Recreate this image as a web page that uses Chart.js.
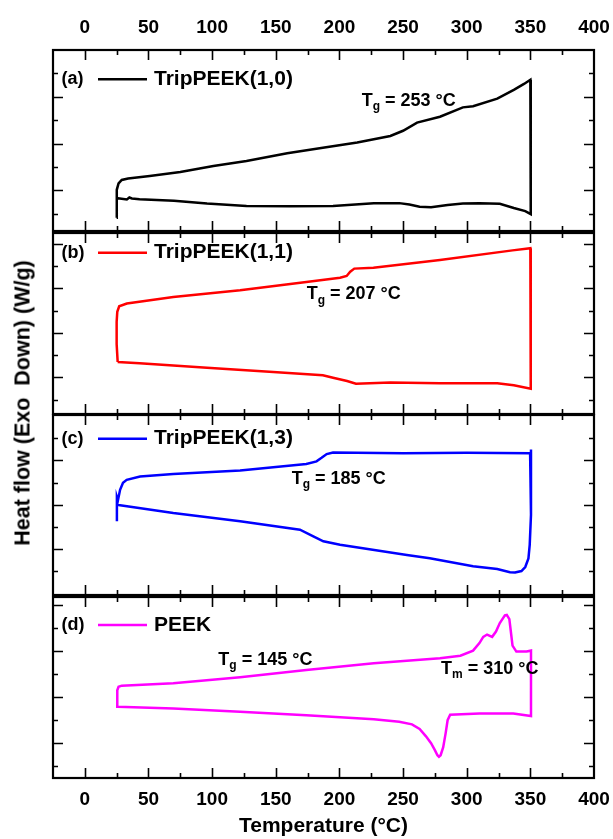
<!DOCTYPE html>
<html>
<head>
<meta charset="utf-8">
<script src="https://cdn.jsdelivr.net/npm/chart.js@4.4.1/dist/chart.umd.min.js"></script>
<style>
  body { margin: 0; background: #fff; }
  #wrap { position: relative; width: 613px; height: 839px; overflow: hidden; background: #fff; }
  #wrap canvas { position: absolute; left: 0; }
  #ytitle {
    position: absolute; left: 23px; top: 403px;
    transform: translate(-50%, -50%) rotate(-90deg);
    font: bold 21.5px "Liberation Sans", Arial, sans-serif;
    white-space: nowrap; color: #000;
  }
</style>
</head>
<body>
<div id="wrap">
  <canvas id="chartA" width="613" height="240" style="top:0px"></canvas>
  <canvas id="chartB" width="613" height="200" style="top:224px"></canvas>
  <canvas id="chartC" width="613" height="200" style="top:406px"></canvas>
  <canvas id="chartD" width="613" height="251" style="top:588px"></canvas>
  <div id="ytitle">Heat flow (Exo&nbsp; Down) (W/g)</div>
</div>
<script>
// temperature axis (°C)
const tempRange = [-25, 400];

// (a) TripPEEK(1,0): heating then cooling, traced in order
const tempA = [25.0, 25.1, 26.5, 29, 34, 51, 75, 101, 127, 159, 187, 214, 240, 250, 261, 279, 297, 305, 324, 337,
  345, 350, 350.3, 346, 337, 326, 310, 297, 285, 272, 263, 255, 247, 227, 195, 161, 127, 96, 70, 43, 37, 35, 33, 26, 25.3];
const heatA = [0.84, 2.03, 2.30, 2.45, 2.51, 2.62, 2.79, 3.05, 3.26, 3.59, 3.83, 4.05, 4.33, 4.55, 4.90, 5.15, 5.55, 5.60, 5.92, 6.30,
  6.55, 6.73, 0.99, 1.12, 1.25, 1.43, 1.45, 1.44, 1.38, 1.28, 1.31, 1.40, 1.46, 1.46, 1.34, 1.33, 1.34, 1.44, 1.56, 1.63, 1.66, 1.70, 1.62, 1.67, 1.67];

// (b) TripPEEK(1,1)
const tempB = [25.8, 25.0, 25.0, 25.5, 27, 33, 69.5, 122, 174, 200.5, 205.7, 208.5, 211.7, 226.7, 279, 336, 350, 350.3, 337, 324,
  279, 240, 213, 206, 195, 187, 148, 96, 43, 25.8];
const heatB = [2.70, 3.5, 4.5, 4.95, 5.20, 5.32, 5.62, 5.92, 6.29, 6.48, 6.56, 6.75, 6.89, 6.93, 7.28, 7.71, 7.81, 1.50, 1.65, 1.74,
  1.74, 1.77, 1.72, 1.84, 1.99, 2.10, 2.25, 2.44, 2.64, 2.70];

// (c) TripPEEK(1,3)
const tempC = [25.2, 25.2, 26, 27.7, 30, 32.9, 43.4, 69.5, 122, 174, 182, 186, 190, 195, 250, 300, 349.8, 350.5, 350.5, 349.5,
  348.5, 346, 343, 338, 334, 324, 305, 271, 253, 200.5, 187.4, 179.5, 169, 122, 69.5, 27.7, 25.5];
const heatC = [3.26, 4.35, 4.2, 4.68, 5.0, 5.13, 5.28, 5.39, 5.55, 5.84, 5.96, 6.12, 6.29, 6.36, 6.33, 6.35, 6.33, 6.50, 3.55, 2.2,
  1.59, 1.2, 1.02, 0.95, 0.97, 1.11, 1.24, 1.60, 1.74, 2.20, 2.36, 2.58, 2.88, 3.26, 3.63, 3.98, 4.0];

// (d) PEEK
const tempD = [25.8, 25.5, 26.5, 29, 69.5, 122, 174, 227, 279, 295, 305, 310, 313, 316, 320, 323, 326, 330, 331.5, 333.5,
  335, 336, 339, 347, 350.5, 350.5, 336.6, 310, 287, 285, 283.5, 281.5, 279.5, 278.2, 277, 275, 272, 268, 263, 257,
  247, 227, 174, 122, 69.5, 25.8];
const heatD = [3.58, 4.30, 4.45, 4.50, 4.60, 4.86, 5.18, 5.47, 5.69, 5.80, 6.02, 6.35, 6.62, 6.72, 6.62, 6.85, 7.22, 7.55, 7.57, 7.39,
  6.70, 6.24, 5.98, 5.98, 6.02, 3.18, 3.29, 3.29, 3.24, 3.0, 2.45, 1.82, 1.48, 1.41, 1.48, 1.70, 2.0, 2.3, 2.62, 2.82,
  2.93, 3.04, 3.22, 3.37, 3.51, 3.58];

const panelTags = ['(a)', '(b)', '(c)', '(d)'];
const seriesNames = ['TripPEEK(1,0)', 'TripPEEK(1,1)', 'TripPEEK(1,3)', 'PEEK'];
const seriesColors = ['#000000', '#ff0000', '#0000ff', '#ff00ff'];
const heatRanges = [[0.27, 8.0], [0.36, 8.49], [-0.06, 8.05], [0.49, 8.35]];

// transition labels: [temperature, heat flow, subscript, rest]
const notesA = [[217.5, 5.83, 'g', '= 253 °C']];
const notesB = [[174.3, 5.74, 'g', '= 207 °C']];
const notesC = [[162.5, 5.18, 'g', '= 185 °C']];
const notesD = [[104.9, 5.61, 'g', '= 145 °C'], [279.8, 5.22, 'm', '= 310 °C']];

const FONT = '"Liberation Sans", Arial, sans-serif';

function toPoints(xs, ys) {
  return xs.map((t, i) => ({ x: t, y: ys[i] }));
}

// frame with inward ticks on all four sides
const framePlugin = {
  id: 'frame',
  afterDraw(chart) {
    const { ctx, chartArea: { left, right, top, bottom }, scales: { x, y } } = chart;
    ctx.save();
    ctx.strokeStyle = '#000';
    ctx.lineWidth = 1.6;
    ctx.beginPath();
    for (let t = 0; t < tempRange[1]; t += 25) {
      const px = Math.round(x.getPixelForValue(t)) + 0.5;
      const len = t % 50 === 0 ? 10 : 5;
      ctx.moveTo(px, top); ctx.lineTo(px, top + len);
      ctx.moveTo(px, bottom); ctx.lineTo(px, bottom - len);
    }
    for (let v = Math.ceil(y.min); v <= Math.floor(y.max); v++) {
      const py = Math.round(y.getPixelForValue(v)) + 0.5;
      if (py < top + 2 || py > bottom - 2) continue;
      const len = v % 2 === 0 ? 10 : 5;
      ctx.moveTo(left, py); ctx.lineTo(left + len, py);
      ctx.moveTo(right, py); ctx.lineTo(right - len, py);
    }
    ctx.stroke();
    ctx.lineWidth = 2.2;
    ctx.strokeRect(left, top, right - left, bottom - top);
    ctx.restore();
  }
};

// panel tag, legend line + name, and the Tg / Tm notes
const notesPlugin = {
  id: 'panelNotes',
  afterDraw(chart, args, opts) {
    const { ctx, chartArea: { left, top }, scales: { x, y } } = chart;
    ctx.save();
    ctx.fillStyle = '#000';
    ctx.textBaseline = 'middle';
    ctx.textAlign = 'left';
    const ly = top + opts.legendY;
    ctx.font = 'bold 18px ' + FONT;
    ctx.fillText(opts.tag, left + 8.5, ly);
    ctx.strokeStyle = opts.color;
    ctx.lineWidth = 2.6;
    ctx.beginPath();
    ctx.moveTo(left + 45, ly); ctx.lineTo(left + 94, ly);
    ctx.stroke();
    ctx.font = 'bold 21px ' + FONT;
    ctx.fillText(opts.name, left + 101, ly);

    opts.notes.forEach(([t, v, sub, rest]) => {
      const px = x.getPixelForValue(t);
      const py = y.getPixelForValue(v);
      ctx.font = 'bold 18px ' + FONT;
      ctx.fillText('T', px, py);
      let w = ctx.measureText('T').width;
      ctx.font = 'bold 12px ' + FONT;
      ctx.fillText(sub, px + w, py + 6);
      w += ctx.measureText(sub).width;
      ctx.font = 'bold 18px ' + FONT;
      ctx.fillText(' ' + rest, px + w, py);
    });
    ctx.restore();
  }
};

function makePanel(id, idx, temps, heats, notes, xAxis, padTop, padBottom, legendY) {
  return new Chart(document.getElementById(id), {
    type: 'scatter',
    data: {
      datasets: [{
        label: seriesNames[idx],
        data: toPoints(temps, heats),
        showLine: true,
        borderColor: seriesColors[idx],
        borderWidth: 2.5,
        pointRadius: 0,
        tension: 0
      }]
    },
    options: {
      responsive: false,
      animation: false,
      layout: { padding: { left: 53, right: 19, top: padTop, bottom: padBottom } },
      plugins: {
        legend: { display: false },
        tooltip: { enabled: false },
        panelNotes: { tag: panelTags[idx], name: seriesNames[idx], color: seriesColors[idx], notes: notes, legendY: legendY }
      },
      scales: {
        x: Object.assign({
          type: 'linear',
          min: tempRange[0],
          max: tempRange[1],
          grid: { display: false, drawTicks: false },
          border: { display: false }
        }, xAxis),
        y: { type: 'linear', display: false, min: heatRanges[idx][0], max: heatRanges[idx][1] }
      }
    },
    plugins: [framePlugin, notesPlugin]
  });
}

const tickStyle = {
  stepSize: 50,
  includeBounds: false,
  maxRotation: 0,
  autoSkip: false,
  color: '#000',
  font: { family: FONT, size: 19, weight: 'bold' }
};

// keep the frame width fixed: drop the extra room Chart.js reserves for edge labels
function fixBox(height) {
  return s => {
    s.height = height;
    s.paddingLeft = 0;
    s.paddingRight = 0;
  };
}

makePanel('chartA', 0, tempA, heatA, notesA, {
  position: 'top',
  ticks: Object.assign({}, tickStyle, { padding: 10.5 }),
  afterFit: fixBox(50)
}, 0, 9, 29.3);

makePanel('chartB', 1, tempB, heatB, notesB, { display: false }, 9, 10, 19.7);

makePanel('chartC', 2, tempC, heatC, notesC, { display: false }, 9, 11, 23.7);

makePanel('chartD', 3, tempD, heatD, notesD, {
  position: 'bottom',
  ticks: Object.assign({}, tickStyle, { padding: 10.5 }),
  title: {
    display: true,
    text: 'Temperature (°C)',
    color: '#000',
    font: { family: FONT, size: 21, weight: 'bold' },
    padding: { top: 0, bottom: 0 }
  },
  afterFit: fixBox(61)
}, 9, 0, 28);
</script>
</body>
</html>
